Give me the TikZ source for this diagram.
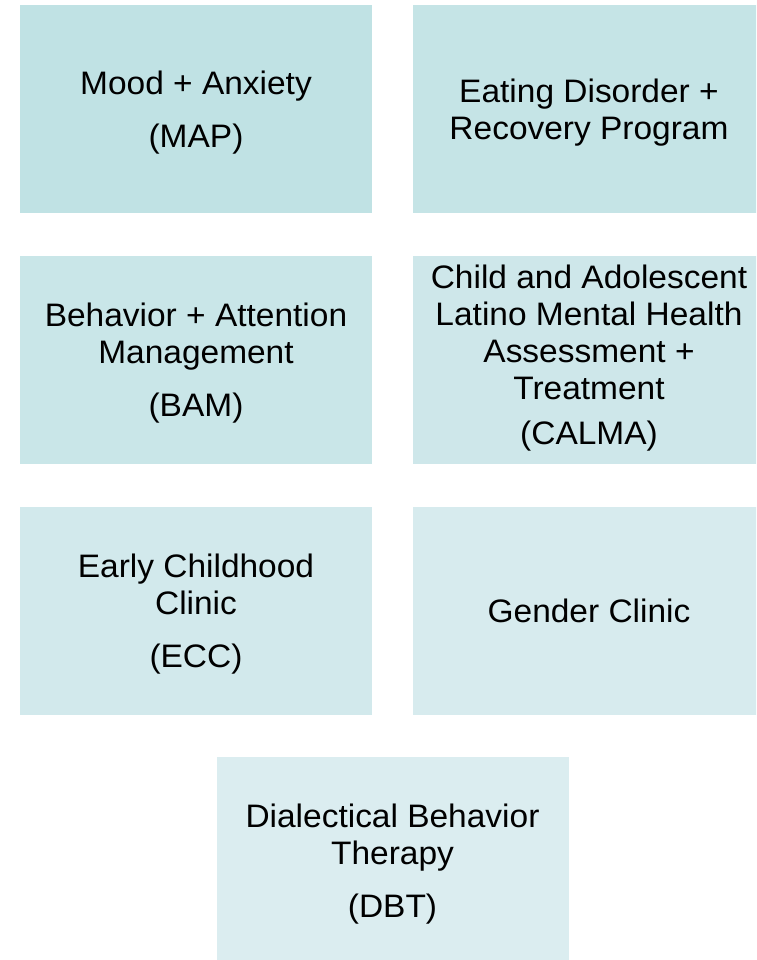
\documentclass[tikz,border=0pt]{standalone}
\usepackage{fontspec}
\setmainfont{Liberation Sans}[FakeStretch=1.03]
\definecolor{tone1}{RGB}{192,226,228}
\definecolor{tone2}{RGB}{197,228,230}
\definecolor{tone3}{RGB}{201,230,232}
\definecolor{tone4}{RGB}{206,231,234}
\definecolor{tone5}{RGB}{210,233,236}
\definecolor{tone6}{RGB}{215,235,238}
\definecolor{tone7}{RGB}{219,237,240}
\tikzset{
  program/.style={rectangle, draw=none, inner sep=0pt,
    minimum width=352pt, minimum height=208pt, align=center,
    text depth=0pt, text=black, font=\fontsize{32.5}{37}\selectfont}
}
\begin{document}
\begin{tikzpicture}[x=1pt,y=1pt]
\useasboundingbox (0,0) rectangle (756,-960);
\clip (0,0) rectangle (756,-960);
\fill[white] (0,0) rectangle (756,-960);
% left column
\node[program, fill=tone1] (map) at (196,-109) {Mood + Anxiety\\[16pt](MAP)};
\node[program, fill=tone3] (bam) at (196,-359.5) {Behavior + Attention\\Management\\[16pt](BAM)};
\node[program, fill=tone5] (ecc) at (196,-610.5) {Early Childhood\\Clinic\\[16pt](ECC)};
% right column
\node[program, fill=tone2] (edrp) at (589,-109) {Eating Disorder +\\Recovery Program};
\node[program, fill=tone4, text depth=10pt] (calma) at (589,-359.5) {Child and Adolescent\\Latino Mental Health\\Assessment +\\Treatment\\[8pt](CALMA)};
\node[program, fill=tone6] (gender) at (589,-610.5) {Gender Clinic};
% bottom, centred
\node[program, fill=tone7] (dbt) at (392.5,-861) {Dialectical Behavior\\Therapy\\[16pt](DBT)};
\end{tikzpicture}
\end{document}
